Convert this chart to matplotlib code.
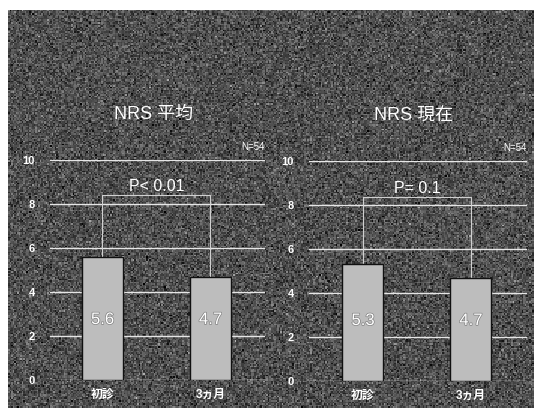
import numpy as np
import matplotlib.pyplot as plt
import matplotlib.patheffects as pe

plt.rcParams['font.family'] = ['Liberation Sans', 'Noto Sans CJK JP', 'DejaVu Sans']

# NRS スコア（初診 → 3ヵ月）
groups = ['初診', '3ヵ月']
nrs_mean = [5.6, 4.7]
nrs_now = [5.3, 4.7]
titles = ['NRS 平均', 'NRS 現在']
p_labels = ['P< 0.01', 'P= 0.1']
n_label = 'N=54'
yticks = [0, 2, 4, 6, 8, 10]

W, H = 534, 408
fig = plt.figure(figsize=(W / 100, H / 100), dpi=100)
fig.patch.set_facecolor('white')

# スライド背景（スキャン風のざらつき）
bg = fig.add_axes([8 / W, 0, 1 - 8 / W, 1 - 10 / H])
rng = np.random.default_rng(3)
tex = np.clip(0.31 + 0.10 * rng.standard_normal((265, 350)), 0, 1)
bg.imshow(tex, cmap='gray', vmin=0, vmax=1, aspect='auto', interpolation='nearest')
bg.set_axis_off()


def px_axes(x0, x1, y_top, y_bot):
    return fig.add_axes([x0 / W, 1 - y_bot / H, (x1 - x0) / W, (y_bot - y_top) / H])


panels = [
    (px_axes(50, 265, 160, 380), nrs_mean, (-0.486, 1.505), 8.4),
    (px_axes(309, 527, 161, 381), nrs_now, (-0.5, 1.52), 8.35),
]

for i, (ax, vals, xlim, br_y) in enumerate(panels):
    ax.set_facecolor('none')
    x = np.arange(len(groups))
    ax.bar(x, vals, width=0.38, color='#bdbdbd', edgecolor='#111111', linewidth=1.0, zorder=3)
    ax.set_xlim(*xlim)
    ax.set_ylim(0, 10)
    ax.set_yticks(yticks)
    ax.yaxis.grid(True, color='#e6e6e6', linewidth=1.0, zorder=1)
    ax.set_axisbelow(True)
    for s in ax.spines.values():
        s.set_visible(False)
    ax.tick_params(length=0, colors='white', labelsize=8, pad=11)
    ax.tick_params(axis='x', pad=6)
    ax.set_xticks(x)
    ax.set_xticklabels(groups, fontweight='bold', fontsize=8.5)
    for lab in ax.get_yticklabels():
        lab.set_fontweight('bold')

    # 値ラベル
    for xi, v in zip(x, vals):
        ax.text(xi, 2.75, f'{v}', ha='center', va='center', fontsize=12, color='white',
                zorder=4, path_effects=[pe.withStroke(linewidth=1.0, foreground='#808080')])

    # 有意差ブラケット
    ax.plot([0, 0, 1, 1], [vals[0], br_y, br_y, vals[1]], color='#d0d0d0',
            linewidth=0.8, zorder=2, clip_on=False)
    ax.text(0.5, br_y + 0.05, p_labels[i], ha='center', va='bottom', fontsize=11.5,
            color='white', zorder=4)

    ax.text(1.0, 1.06, n_label, transform=ax.transAxes, ha='right', va='center',
            fontsize=7, color='white')
    ax.text(0.48, 1.205, titles[i], transform=ax.transAxes, ha='center', va='center',
            fontsize=13, color='white')

fig.savefig('out.png', dpi=100)
